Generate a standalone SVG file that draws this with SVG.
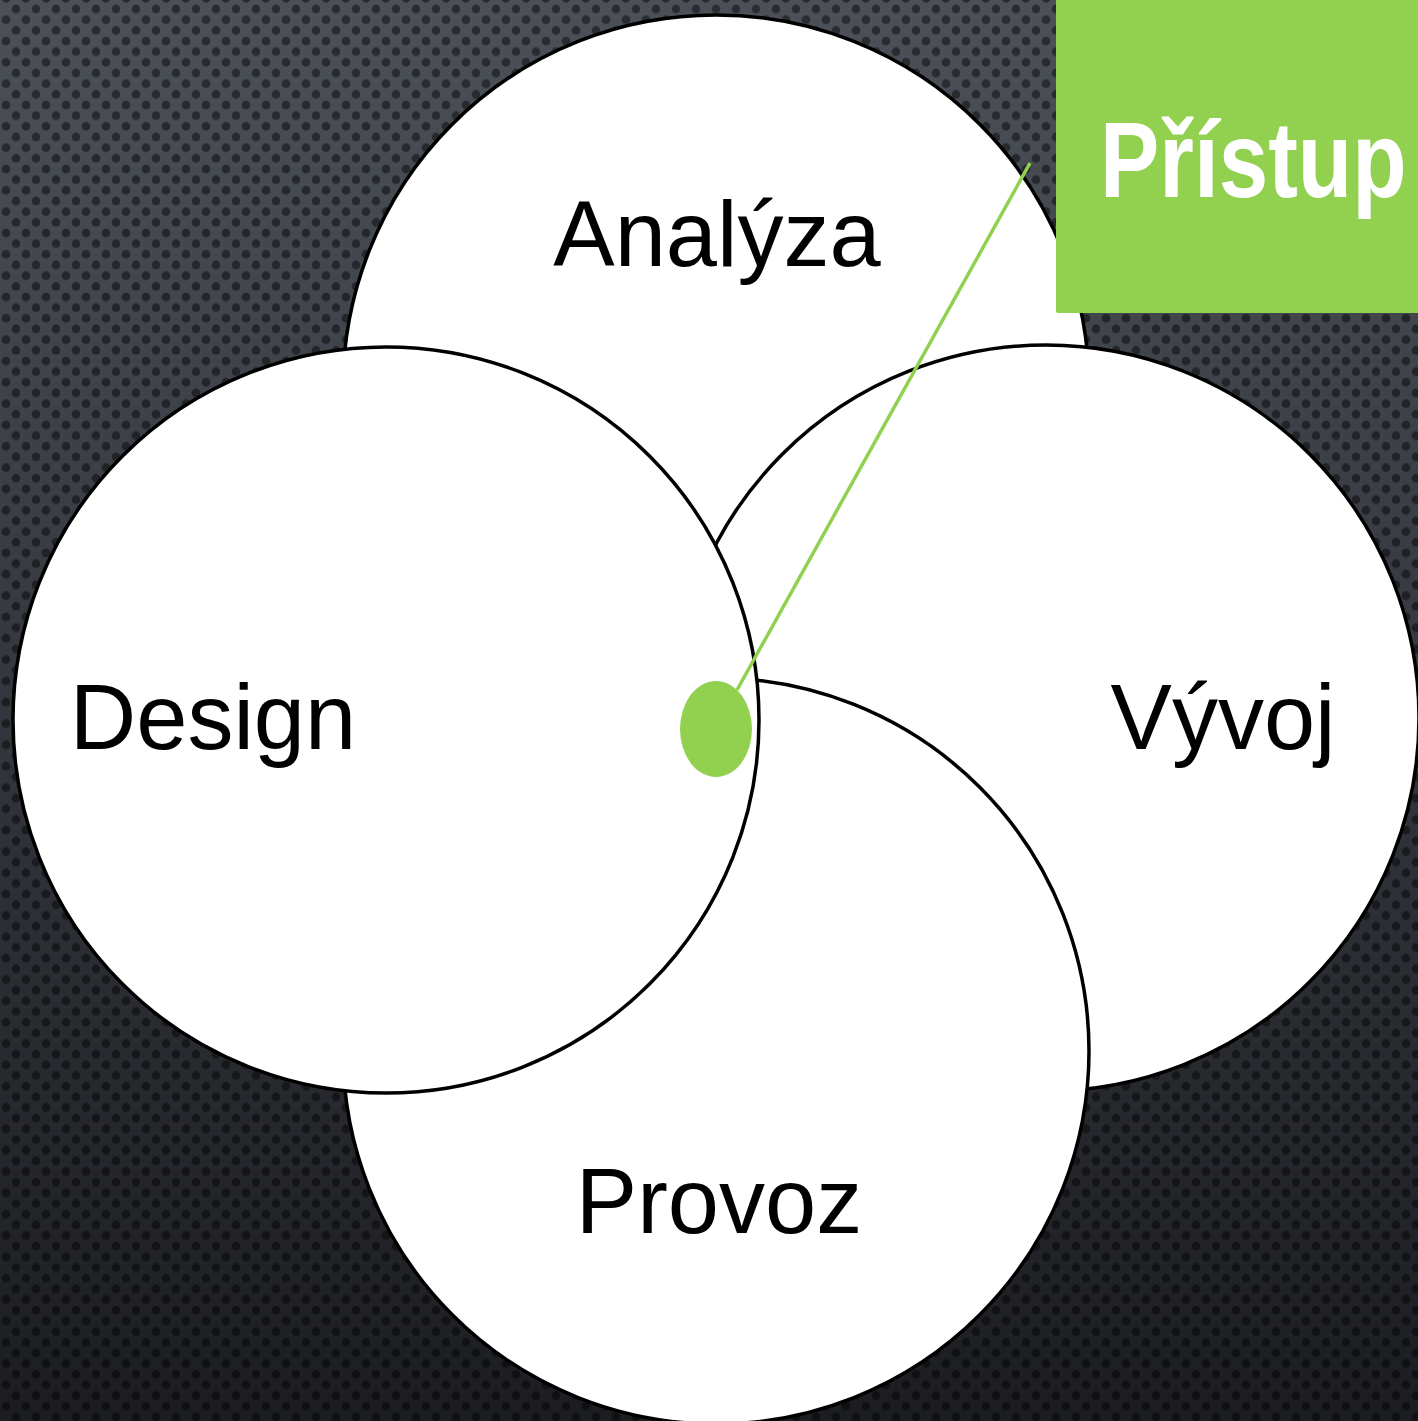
<svg xmlns="http://www.w3.org/2000/svg" width="1418" height="1421" viewBox="0 0 1418 1421">
  <defs>
    <linearGradient id="bg" x1="0" y1="0" x2="0" y2="1">
      <stop offset="0" stop-color="#4c5159"/>
      <stop offset="0.5" stop-color="#33363d"/>
      <stop offset="1" stop-color="#1c1d21"/>
    </linearGradient>
    <pattern id="dots" x="0" y="0" width="20" height="21.33" patternUnits="userSpaceOnUse">
      <circle cx="16" cy="9" r="4.3" fill="#000" fill-opacity="0.45"/>
      <circle cx="6" cy="19.67" r="4.3" fill="#000" fill-opacity="0.45"/>
      <circle cx="6" cy="-1.67" r="4.3" fill="#000" fill-opacity="0.45"/>
    </pattern>
    <style>
      .circ { fill: #ffffff; stroke: #000000; stroke-width: 3.5; }
      .lbl { font-family: "Liberation Sans", Arial, sans-serif; font-size: 92px; fill: #000000; text-anchor: middle; }
      .ttl { font-family: "Liberation Sans", Arial, sans-serif; font-size: 89px; font-weight: bold; fill: #ffffff; }
    </style>
  </defs>
  <rect x="0" y="0" width="1418" height="1421" fill="url(#bg)"/>
  <rect x="0" y="0" width="1418" height="1421" fill="url(#dots)"/>

  <g id="analyza">
    <circle class="circ" cx="716" cy="388" r="373"/>
    <text class="lbl" x="717" y="266">Analýza</text>
  </g>
  <g id="vyvoj">
    <circle class="circ" cx="1046" cy="718" r="373"/>
    <text class="lbl" x="1223" y="749">Vývoj</text>
  </g>
  <g id="provoz">
    <circle class="circ" cx="716" cy="1051" r="373"/>
    <text class="lbl" x="719" y="1233">Provoz</text>
  </g>
  <g id="design">
    <circle class="circ" cx="386" cy="720" r="373"/>
    <text class="lbl" x="213" y="749">Design</text>
  </g>

  <g id="connectors">
    <line x1="737" y1="690" x2="1030" y2="163" stroke="#92d050" stroke-width="3.5"/>
  </g>

  <g id="center-dot">
    <ellipse cx="716" cy="729" rx="36" ry="48" fill="#92d050"/>
  </g>

  <g id="pristup">
    <rect x="1056" y="-4" width="366" height="317" rx="2" fill="#92d050"/>
    <text class="ttl" transform="translate(1100,197) scale(1,1.2)" x="0" y="0">Přístup</text>
  </g>
</svg>
